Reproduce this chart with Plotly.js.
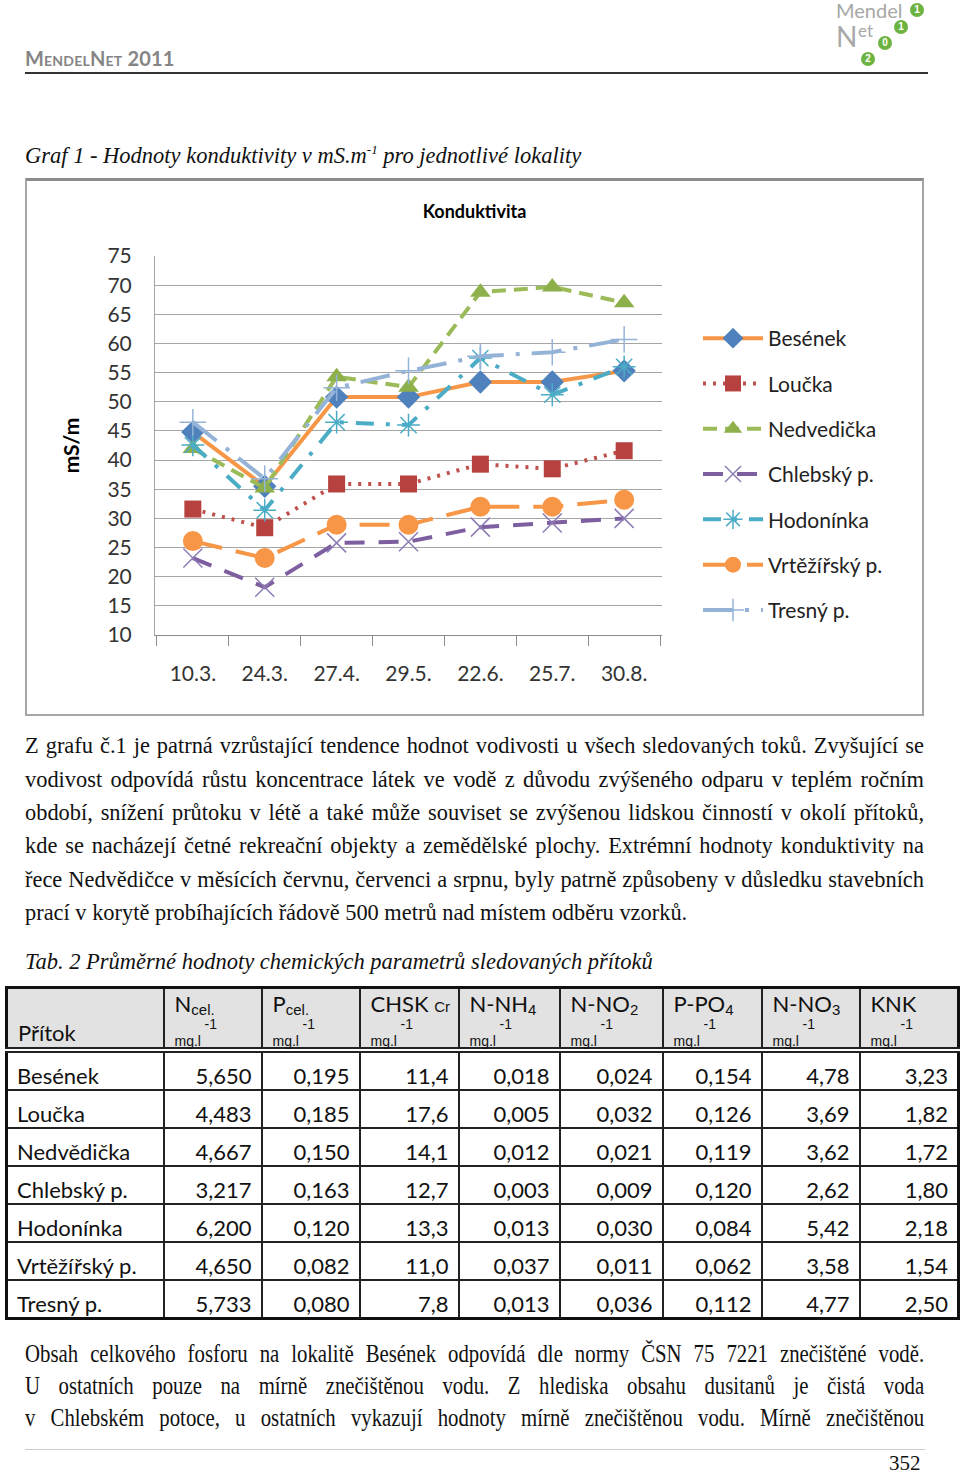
<!DOCTYPE html>
<html><head><meta charset="utf-8">
<script src="https://cdn.plot.ly/plotly-3.0.1.min.js"></script>
<style>
body{margin:0;width:960px;height:1473px;position:relative;background:#fff;overflow:hidden;}
.abs{position:absolute;}
.hdr{left:25px;top:46px;font-family:'Lato';font-weight:bold;color:#858585;font-size:20px;font-variant:small-caps;letter-spacing:0.2px;}
.topline{left:25px;top:72px;width:903px;height:2px;background:#333;}
.logo{font-family:'Lato';color:#a8a8a8;line-height:1;white-space:nowrap;}
.dot{position:absolute;width:14px;height:14px;border-radius:50%;background:#6db33f;color:#fff;font-family:'Liberation Sans';font-weight:bold;font-size:10px;line-height:14px;text-align:center;}
.cap{left:25px;font-family:'Liberation Serif';font-style:italic;font-size:22.5px;color:#111;white-space:nowrap;}
.ln{left:25px;width:899px;font-family:'Liberation Serif';font-size:22.4px;color:#111;text-align:justify;text-align-last:justify;line-height:34px;height:34px;}
.ln.last{text-align-last:left;}
.ln2{left:25px;width:1124px;font-family:'Liberation Serif';font-size:26px;color:#111;text-align:justify;text-align-last:justify;line-height:32px;height:32px;transform:scaleX(0.8);transform-origin:left center;}
.frame{left:25px;top:178px;width:899px;height:538px;box-sizing:border-box;border:2px solid #a6a6a6;border-top:3px solid #8c8c8c;}
table.t{position:absolute;left:5px;top:986px;width:952px;border-collapse:collapse;table-layout:fixed;border:3px solid #111;font-family:'Lato';font-size:22px;color:#111;}
table.t td{border:2px solid #222;padding:0;}
table.t tr.h td{background:#e2e2e2;height:58px;vertical-align:top;border-bottom:6px double #222;position:relative;}
table.t tr.r td{height:28px;padding-top:8px;text-align:right;padding-right:9px;vertical-align:middle;}
table.t tr.r td.n{text-align:left;padding-left:9px;padding-right:0;}
.hl{position:absolute;left:10px;top:1px;white-space:nowrap;font-size:22px;}
.hl sub{font-family:'Liberation Sans';font-size:15px;vertical-align:-3px;}
.m1{position:absolute;left:40px;top:27px;font-family:'Liberation Sans';font-size:14px;}
.mg{position:absolute;left:10px;top:44px;font-family:'Liberation Sans';font-size:14px;}
</style></head><body>
<div class="abs hdr">MendelNet 2011</div>
<div class="abs topline"></div>
<div class="abs logo" style="left:836px;top:0px;font-size:20px;">Mendel</div>
<div class="abs logo" style="left:836px;top:22px;font-size:28px;">N</div>
<div class="abs logo" style="left:858px;top:22px;font-size:17px;">et</div>
<div class="dot" style="left:910px;top:3px;">1</div>
<div class="dot" style="left:894px;top:20px;">1</div>
<div class="dot" style="left:878px;top:36px;">0</div>
<div class="dot" style="left:861px;top:52px;">2</div>

<div class="abs cap" style="top:142px;">Graf 1 - Hodnoty konduktivity v mS.m<sup style="font-size:13px">-1</sup> pro jednotlivé lokality</div>
<div class="abs frame"></div>
<div id="chart" class="abs" style="left:27px;top:181px;width:895px;height:533px;"></div>

<div class="abs ln" style="top:729px;">Z grafu č.1 je patrná vzrůstající tendence hodnot vodivosti u všech sledovaných toků. Zvyšující se</div>
<div class="abs ln" style="top:763px;">vodivost odpovídá růstu koncentrace látek ve vodě z důvodu zvýšeného odparu v teplém ročním</div>
<div class="abs ln" style="top:796px;">období, snížení průtoku v létě a také může souviset se zvýšenou lidskou činností v okolí přítoků,</div>
<div class="abs ln" style="top:829px;">kde se nacházejí četné rekreační objekty a zemědělské plochy. Extrémní hodnoty konduktivity na</div>
<div class="abs ln" style="top:863px;">řece Nedvědičce v měsících červnu, červenci a srpnu, byly patrně způsobeny v důsledku stavebních</div>
<div class="abs ln last" style="top:896px;">prací v korytě probíhajících řádově 500 metrů nad místem odběru vzorků.</div>

<div class="abs cap" style="top:949px;">Tab. 2 Průměrné hodnoty chemických parametrů sledovaných přítoků</div>
<table class="t" id="tab"></table>

<div class="abs ln2" style="top:1338px;">Obsah celkového fosforu na lokalitě Besének odpovídá dle normy ČSN 75 7221 znečištěné vodě.</div>
<div class="abs ln2" style="top:1370px;">U ostatních pouze na mírně znečištěnou vodu. Z hlediska obsahu dusitanů je čistá voda</div>
<div class="abs ln2" style="top:1402px;">v Chlebském potoce, u ostatních vykazují hodnoty mírně znečištěnou vodu. Mírně znečištěnou</div>
<div class="abs" style="left:25px;top:1449px;width:900px;height:1px;background:#ccc;"></div>
<div class="abs" style="left:889px;top:1451px;font-family:'Liberation Serif';font-size:21px;color:#111;">352</div>

<script>
// ---- chart data ----
const dates = ['10.3.','24.3.','27.4.','29.5.','22.6.','25.7.','30.8.'];
const seriesNames = ['Besének','Loučka','Nedvedička','Chlebský p.','Hodonínka','Vrtěžířský p.','Tresný p.'];
const besenek    = [44.8, 35.5, 50.8, 50.8, 53.4, 53.4, 55.3];
const loucka     = [31.6, 28.4, 35.9, 35.9, 39.3, 38.5, 41.6];
const nedvedicka = [42.0, 35.2, 54.3, 52.5, 68.8, 69.7, 67.0];
const chlebsky   = [23.2, 18.2, 25.8, 26.0, 28.5, 29.2, 30.0];
const hodoninka  = [42.6, 31.4, 46.5, 46.0, 57.5, 51.2, 56.0];
const vrtezirsky = [26.1, 23.2, 28.9, 28.9, 32.0, 32.0, 33.2];
const tresny     = [46.5, 36.8, 52.4, 55.3, 57.8, 58.5, 60.7];

// ---- table data ----
const tribs  = ['Besének','Loučka','Nedvědička','Chlebský p.','Hodonínka','Vrtěžířský p.','Tresný p.'];
const nCel   = ['5,650','4,483','4,667','3,217','6,200','4,650','5,733'];
const pCel   = ['0,195','0,185','0,150','0,163','0,120','0,082','0,080'];
const chsk   = ['11,4','17,6','14,1','12,7','13,3','11,0','7,8'];
const nNH4   = ['0,018','0,005','0,012','0,003','0,013','0,037','0,013'];
const nNO2   = ['0,024','0,032','0,021','0,009','0,030','0,011','0,036'];
const pPO4   = ['0,154','0,126','0,119','0,120','0,084','0,062','0,112'];
const nNO3   = ['4,78','3,69','3,62','2,62','5,42','3,58','4,77'];
const knk    = ['3,23','1,82','1,72','1,80','2,18','1,54','2,50'];
const headLabels = ['N<sub>cel.</sub>','P<sub>cel.</sub>','CHSK <sub style="vertical-align:0;font-size:15px">Cr</sub>','N-NH<sub>4</sub>','N-NO<sub>2</sub>','P-PO<sub>4</sub>','N-NO<sub>3</sub>','KNK'];

const colW = [157,98,98,99,101,103,99,98,99];
let html = '<colgroup>' + colW.map(w=>'<col style="width:'+w+'px">').join('') + '</colgroup>';
html += '<tr class="h"><td><div class="hl" style="top:30px">Přítok</div></td>' +
  headLabels.map(h=>'<td><div class="hl">'+h+'</div><div class="m1">-1</div><div class="mg">mg.l</div></td>').join('') + '</tr>';
const cols = [nCel,pCel,chsk,nNH4,nNO2,pPO4,nNO3,knk];
tribs.forEach((t,i)=>{
  html += '<tr class="r"><td class="n">'+t+'</td>' + cols.map(c=>'<td>'+c[i]+'</td>').join('') + '</tr>';
});
document.getElementById('tab').innerHTML = html;

const styles = [
  {line:{color:'#F79646',width:4}, marker:{symbol:'diamond',size:18,color:'#4F81BD'}},
  {line:{color:'#C0504D',width:4,dash:'3px,7px'}, marker:{symbol:'square',size:17,color:'#B7413E'}},
  {line:{color:'#9BBB59',width:4,dash:'14px,8px'}, marker:{symbol:'triangle-up',size:18,color:'#8DB04A'}},
  {line:{color:'#7D5FA0',width:4,dash:'20px,14px'}, marker:{symbol:'x-thin',size:19,color:'#8E7CB5',line:{color:'#8E7CB5',width:1.5}}},
  {line:{color:'#4BACC6',width:4,dash:'18px,12px,4px,12px'}, marker:{symbol:'asterisk',size:19,color:'#4BACC6',line:{color:'#4BACC6',width:1.5}}},
  {line:{color:'#F79646',width:4,dash:'30px,14px'}, marker:{symbol:'circle',size:20,color:'#F79646'}},
  {line:{color:'#95B3D7',width:4,dash:'30px,12px,4px,12px'}, marker:{symbol:'cross-thin',size:19,color:'#95B3D7',line:{color:'#95B3D7',width:1.5}}}
];
const vals = [besenek,loucka,nedvedicka,chlebsky,hodoninka,vrtezirsky,tresny];
const traces = vals.map((v,i)=>Object.assign({
  type:'scatter', mode:'lines+markers', x:dates, y:v, name:seriesNames[i], legendgroup:'g'+i
}, styles[i]));

const layout = {
  width:895, height:533,
  margin:{l:128,r:260,t:75,b:79},
  paper_bgcolor:'#fff', plot_bgcolor:'#fff',
  showlegend:true,
  title:{text:'<b>Konduktivita</b>', font:{family:'Lato',size:18,color:'#000'}, x:0.5, xref:'container', y:1-31/533, yanchor:'middle'},
  xaxis:{type:'category', tickson:'boundaries', ticks:'outside', ticklen:10, tickcolor:'#8c8c8c', tickwidth:1,
         showline:true, linecolor:'#8c8c8c', linewidth:1, showgrid:false, fixedrange:true,
         tickfont:{family:'Lato',size:21,color:'#333'}, ticklabelstandoff:20},
  yaxis:{range:[10,75], tick0:10, dtick:5, showgrid:true, gridcolor:'#a6a6a6', gridwidth:1, zeroline:false,
         showline:true, linecolor:'#a6a6a6', ticks:'', tickfont:{family:'Lato',size:21,color:'#333'},
         ticklabelstandoff:18,
         title:{text:'<b>mS/m</b>', font:{family:'Lato',size:21,color:'#000'}, standoff:22}},
  legend:{x:(698-155)/507, xanchor:'left', y:(635-318)/379, yanchor:'top', font:{family:'Lato',size:21,color:'#222'},
          tracegroupgap:15, itemwidth:60, bgcolor:'rgba(0,0,0,0)'}
};
Plotly.newPlot('chart', traces, layout, {displayModeBar:false, staticPlot:true});
</script>
</body></html>
